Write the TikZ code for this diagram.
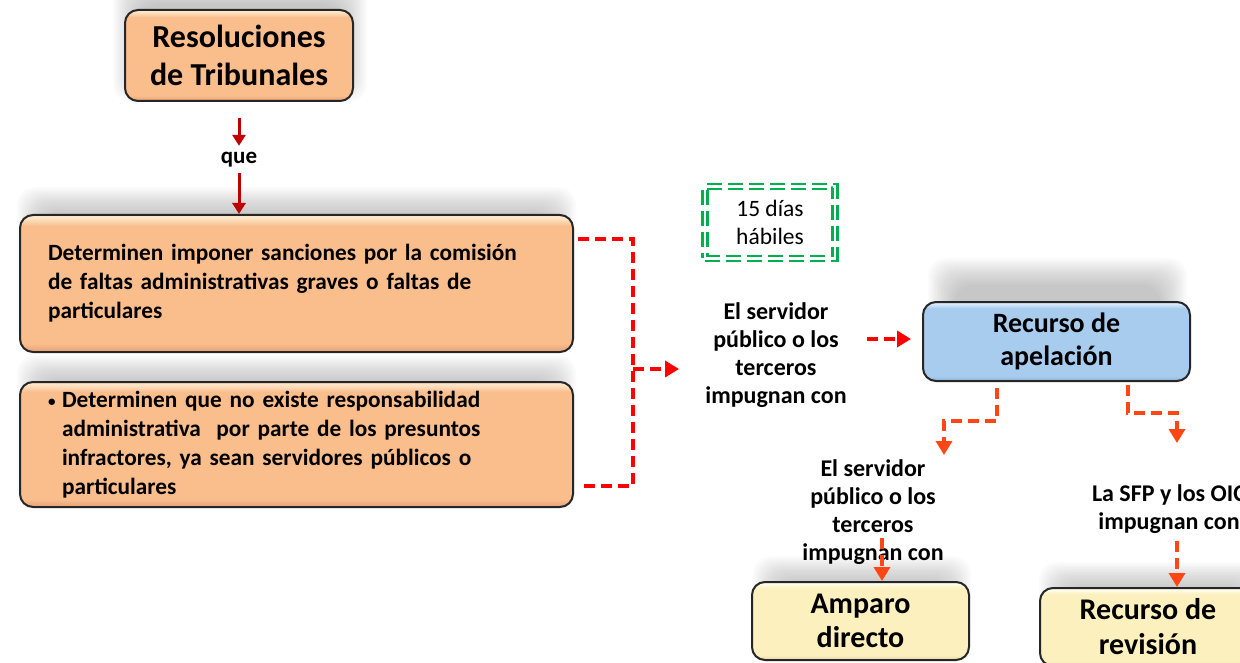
\documentclass[tikz,border=0pt]{standalone}
\usepackage{fontspec}
\setmainfont{Carlito}
\usetikzlibrary{arrows.meta}
\definecolor{orM}{RGB}{250,189,140}
\definecolor{orL}{RGB}{253,230,200}
\definecolor{orD}{RGB}{226,160,118}
\definecolor{blM}{RGB}{168,204,238}
\definecolor{blL}{RGB}{220,236,252}
\definecolor{blD}{RGB}{138,174,210}
\definecolor{yeM}{RGB}{252,240,190}
\definecolor{yeL}{RGB}{255,253,238}
\definecolor{yeD}{RGB}{228,212,160}
\definecolor{darkred}{RGB}{192,0,0}
\definecolor{redd}{RGB}{255,0,0}
\definecolor{orred}{RGB}{255,70,20}
\definecolor{grn}{RGB}{0,176,80}
\pgfdeclareverticalshading{bevor}{100bp}{color(0bp)=(orD); color(25bp)=(orD); color(28bp)=(orM); color(71bp)=(orM); color(74bp)=(orL); color(100bp)=(orL)}
\pgfdeclareverticalshading{bevbl}{100bp}{color(0bp)=(blD); color(25bp)=(blD); color(28bp)=(blM); color(71bp)=(blM); color(74bp)=(blL); color(100bp)=(blL)}
\pgfdeclareverticalshading{bevye}{100bp}{color(0bp)=(yeD); color(25bp)=(yeD); color(28bp)=(yeM); color(71bp)=(yeM); color(74bp)=(yeL); color(100bp)=(yeL)}
\newcommand{\softshade}[4]{%
  \foreach \k in {0,...,15}{%
    \fill[black,opacity=0.016,rounded corners=18pt] (#1-\k*1.8,#2-\k*1.8) rectangle (#3+\k*1.8,#4+\k*1.8);}}
\begin{document}
\begin{tikzpicture}[x=1pt,y=-1pt,
  box/.style={draw=black!85, line width=2pt, rounded corners=13pt, inner sep=0pt, align=center, font=\bfseries},
  orbox/.style={box, shading=bevor},
  blbox/.style={box, shading=bevbl},
  yebox/.style={box, shading=bevye},
  lbl/.style={align=center, font=\bfseries\fontsize{24}{28}\selectfont, inner sep=0pt},
  darr/.style={darkred, line width=3pt, -{Triangle[width=13pt,length=11pt]}},
  reddash/.style={redd, line width=3.5pt, dash pattern=on 11pt off 6pt},
  orfdash/.style={orred, line width=3.5pt, dash pattern=on 11pt off 6pt},
  tri/.style={-{Triangle[width=16pt,length=14pt]}}
]
\useasboundingbox (0,0) rectangle (1240,663);
% soft shadows
\softshade{140}{4}{340}{75}
\softshade{44}{214}{549}{318}
\softshade{44}{382}{549}{478}
\softshade{955}{285}{1160}{325}
\softshade{780}{583}{944}{620}
\softshade{1066}{589}{1240}{630}
\fill[white,opacity=0.6] (705,187) rectangle (836,258);

% nodes
\node[orbox, minimum width=228pt, minimum height=91pt, font=\bfseries\fontsize{32}{38}\selectfont] (b1) at (239,55.5) {Resoluciones\\de Tribunales};
\node[font=\bfseries\fontsize{23}{24}\selectfont, inner sep=0pt, minimum height=27pt] (que) at (239,159.5) {que};
\node[orbox, minimum width=553pt, minimum height=137pt, text width=497pt, align=left, font=\bfseries\fontsize{23.3}{29}\selectfont] (b2) at (296.5,283.5)
 {Determinen imponer sanciones por la comisión\\de faltas administrativas graves o faltas de\\particulares};
\node[orbox, minimum width=553pt, minimum height=125pt, text width=497pt, align=left, font=\bfseries\fontsize{23.3}{29}\selectfont] (b3) at (296.5,444.5)
 {\makebox[14pt][l]{\raisebox{1pt}{\fontsize{15}{15}\selectfont\textbullet}}Determinen que no existe responsabilidad\\
  \hspace*{14pt}administrativa~ por parte de los presuntos\\
  \hspace*{14pt}infractores, ya sean servidores públicos o\\
  \hspace*{14pt}particulares};
\node[draw=grn, double=white, double distance=2.6pt, line width=2.3pt, dash pattern=on 15pt off 6pt,
      minimum width=130pt, minimum height=72pt, inner sep=0pt, align=center,
      font=\fontsize{23.5}{28}\selectfont] (g1) at (770,222.5) {15 días\\hábiles};
\node[lbl] (t1) at (776,355) {El servidor\\público o los\\terceros\\impugnan con};
\node[blbox, minimum width=267pt, minimum height=79pt, font=\bfseries\fontsize{28}{33}\selectfont] (ap) at (1056.5,341.5) {Recurso de\\apelación};
\node[lbl] (t2) at (873,512) {El servidor\\público o los\\terceros\\impugnan con};
\node[lbl] (t3) at (1169,509) {La SFP y los OIC\\impugnan con};
\node[yebox, minimum width=217pt, minimum height=78pt, font=\bfseries\fontsize{30}{34}\selectfont] (am) at (860.5,621) {Amparo\\directo};
\node[yebox, minimum width=216pt, minimum height=78pt, font=\bfseries\fontsize{30}{35}\selectfont] (rv) at (1148,627) {Recurso de\\revisión};

% connectors
\draw[darr] ([yshift=-16pt]b1.south) -- (que.north);
\draw[darr] (que.south) -- (que.south |- b2.north);
\coordinate (k1) at (578,239);
\coordinate (k2) at (583,486);
\coordinate (k3) at (633,369);
\coordinate (k4) at (679,369);
\draw[reddash] (k1) -| (k2 -| k3) -- (k2);
\draw[reddash, tri] (k3) -- (k4);
\draw[reddash, tri] ([xshift=-55pt,yshift=2.5pt]ap.west) -- ([xshift=-11pt,yshift=2.5pt]ap.west);
\coordinate (a1) at (997,388);
\coordinate (a2) at (944,455);
\draw[orfdash, tri] (a1) -- (997,421) -| (a2);
\coordinate (c1) at (1128,385);
\coordinate (c2) at (1177,443);
\draw[orfdash, tri] (c1) -- (1128,413) -| (c2);
\coordinate (d1) at (882,538);
\draw[orfdash, tri] (d1) -- (d1 |- am.north);
\coordinate (e1) at (1177,541);
\draw[orfdash, tri] (e1) -- (e1 |- rv.north);
\end{tikzpicture}
\end{document}
